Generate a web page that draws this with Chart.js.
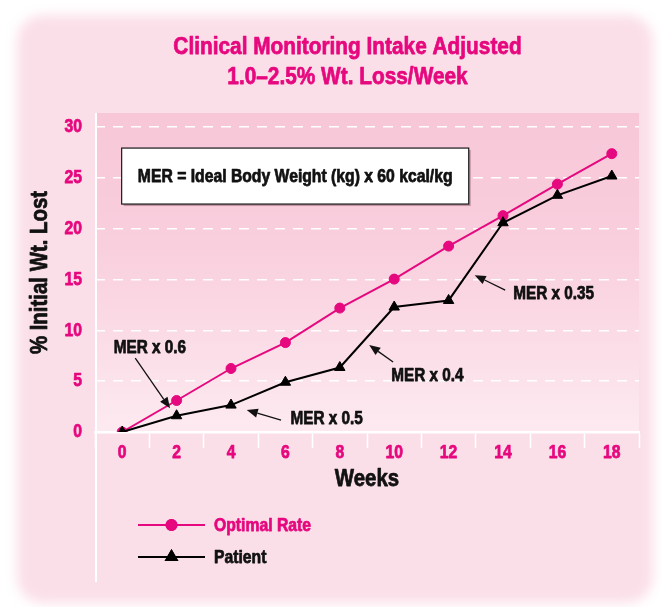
<!DOCTYPE html>
<html><head><meta charset="utf-8">
<script src="https://cdn.jsdelivr.net/npm/chart.js@4.4.1/dist/chart.umd.min.js"></script>
<style>html,body{margin:0;padding:0;background:#fff;} canvas{display:block;}</style>
</head><body>
<canvas id="c" width="661" height="607"></canvas>
<script>
// ---------- data ----------
const weeks = ['0', '2', '4', '6', '8', '10', '12', '14', '16', '18'];
const optimalRate = [0, 3.1, 6.25, 8.8, 12.2, 15.05, 18.3, 21.3, 24.4, 27.4];
const patient = [0, 1.6, 2.65, 4.9, 6.35, 12.3, 12.95, 20.6, 23.3, 25.2];
const titleLines = ['Clinical Monitoring Intake Adjusted', '1.0\u20132.5% Wt. Loss/Week'];
const seriesNames = ['Optimal Rate', 'Patient'];
const noteLabels = ['MER x 0.6', 'MER x 0.5', 'MER x 0.4', 'MER x 0.35'];
const boxLabel = 'MER = Ideal Body Weight (kg) x 60 kcal/kg';

// ---------- layout (positions in data units: weeks / % lost) ----------
const notePlacement = [
  { text: [1.02, 8.36], from: [0.48, 7.28], to: [1.76, 2.33] },
  { text: [7.52, 1.38], from: [5.84, 1.18], to: [4.58, 2.16] },
  { text: [11.22, 5.61], from: [9.96, 6.89], to: [9.08, 8.56] },
  { text: [15.86, 13.67], from: [14.08, 13.97], to: [12.96, 15.44] }
];
const boxPlacement = { x0: -0.02, x1: 12.74, y0: 27.95, y1: 22.44 };

const PINK = '#e6087e';
const FONT = '"Liberation Sans", Arial, sans-serif';
const CONDENSE = 0.85;   // horizontal squeeze to imitate a condensed face

// condensed, heavier text rendering on the chart's context
const canvas = document.getElementById('c');
const ctx2d = canvas.getContext('2d');
const origFill = ctx2d.fillText.bind(ctx2d);
const origStroke = ctx2d.strokeText.bind(ctx2d);
const origMeasure = ctx2d.measureText.bind(ctx2d);
ctx2d.fillText = function (text, x, y, maxWidth) {
  this.save();
  this.translate(x, y);
  this.scale(CONDENSE, 1);
  origFill(text, 0, 0);
  if (/bold/.test(this.font)) {
    this.strokeStyle = this.fillStyle;
    this.lineWidth = 0.75;
    this.lineJoin = 'round';
    this.setLineDash([]);
    origStroke(text, 0, 0);
  }
  this.restore();
};
ctx2d.measureText = function (text) {
  const m = origMeasure(text);
  return {
    width: m.width * CONDENSE,
    actualBoundingBoxAscent: m.actualBoundingBoxAscent,
    actualBoundingBoxDescent: m.actualBoundingBoxDescent,
    actualBoundingBoxLeft: m.actualBoundingBoxLeft * CONDENSE,
    actualBoundingBoxRight: m.actualBoundingBoxRight * CONDENSE
  };
};

function px(chart, wk, val) {
  const xs = chart.scales.x, ys = chart.scales.y;
  return [xs.getPixelForValue(wk / 2), ys.getPixelForValue(val)];
}

const backgroundPlugin = {
  id: 'bg',
  beforeDraw(chart) {
    const ctx = chart.ctx;
    const { left, right, top, bottom } = chart.chartArea;
    ctx.save();
    ctx.fillStyle = '#ffffff';
    ctx.fillRect(0, 0, chart.width, chart.height);
    ctx.filter = 'blur(6px)';
    ctx.fillStyle = '#fbdfe8';
    ctx.beginPath();
    ctx.roundRect(17, 15, 636, 588, 26);
    ctx.fill();
    ctx.filter = 'none';
    const g = ctx.createLinearGradient(0, top, 0, bottom);
    g.addColorStop(0, '#f7c7d8');
    g.addColorStop(0.4, '#f9cedd');
    g.addColorStop(0.7, '#fbdce6');
    g.addColorStop(1, '#fdeaf0');
    ctx.fillStyle = g;
    ctx.fillRect(left, top, right - left, bottom - top);
    ctx.restore();
  },
  beforeDatasetsDraw(chart) {
    const ctx = chart.ctx;
    const { left, top } = chart.chartArea;
    ctx.save();
    ctx.strokeStyle = '#ffffff';
    ctx.lineWidth = 2;
    ctx.beginPath();
    ctx.moveTo(left + 1, top);
    ctx.lineTo(left + 1, 582);
    ctx.stroke();
    // annotation box
    const [bx0, by0] = px(chart, boxPlacement.x0, boxPlacement.y0);
    const [bx1, by1] = px(chart, boxPlacement.x1, boxPlacement.y1);
    ctx.fillStyle = 'rgba(90,40,60,0.35)';
    ctx.fillRect(bx0 + 2, by0 + 2, bx1 - bx0, by1 - by0);
    ctx.fillStyle = '#ffffff';
    ctx.fillRect(bx0, by0, bx1 - bx0, by1 - by0);
    ctx.strokeStyle = '#1a1a1a';
    ctx.lineWidth = 1.2;
    ctx.strokeRect(bx0, by0, bx1 - bx0, by1 - by0);
    ctx.fillStyle = '#111';
    ctx.font = 'bold 18.5px ' + FONT;
    ctx.textAlign = 'center';
    ctx.textBaseline = 'middle';
    ctx.fillText(boxLabel, (bx0 + bx1) / 2, (by0 + by1) / 2 + 1);
    ctx.restore();
  },
  afterDraw(chart) {
    const ctx = chart.ctx;
    ctx.save();
    ctx.font = 'bold 18px ' + FONT;
    ctx.textAlign = 'center';
    ctx.textBaseline = 'middle';
    noteLabels.forEach((t, i) => {
      const p = notePlacement[i];
      const [tx, ty] = px(chart, p.text[0], p.text[1]);
      ctx.fillStyle = '#111';
      ctx.fillText(t, tx, ty + 1);
      const [x0, y0] = px(chart, p.from[0], p.from[1]);
      const [x1, y1] = px(chart, p.to[0], p.to[1]);
      const ang = Math.atan2(y1 - y0, x1 - x0);
      const hl = 11, hw = 4.5;
      const bxp = x1 - Math.cos(ang) * hl, byp = y1 - Math.sin(ang) * hl;
      ctx.strokeStyle = '#111';
      ctx.lineWidth = 1.3;
      ctx.beginPath();
      ctx.moveTo(x0, y0);
      ctx.lineTo(bxp, byp);
      ctx.stroke();
      ctx.beginPath();
      ctx.moveTo(x1, y1);
      ctx.lineTo(bxp + Math.sin(ang) * hw, byp - Math.cos(ang) * hw);
      ctx.lineTo(bxp - Math.sin(ang) * hw, byp + Math.cos(ang) * hw);
      ctx.closePath();
      ctx.fillStyle = '#111';
      ctx.fill();
    });
    // legend
    const items = [
      { ds: chart.data.datasets[0], y: 525, color: PINK },
      { ds: chart.data.datasets[1], y: 557, color: '#111' }
    ];
    items.forEach(it => {
      ctx.strokeStyle = it.ds.borderColor;
      ctx.lineWidth = it.ds.borderWidth;
      ctx.beginPath();
      ctx.moveTo(138, it.y);
      ctx.lineTo(205, it.y);
      ctx.stroke();
      Chart.helpers.drawPoint(ctx, {
        pointStyle: it.ds.pointStyle, radius: it.ds.pointRadius, borderWidth: 1, rotation: 0
      }, 171.5, it.y);
      ctx.fillStyle = it.ds.pointBackgroundColor;
      ctx.strokeStyle = it.ds.pointBackgroundColor;
      ctx.fill();
      ctx.stroke();
      ctx.fillStyle = it.color;
      ctx.font = 'bold 18.5px ' + FONT;
      ctx.textAlign = 'left';
      ctx.textBaseline = 'middle';
      ctx.fillText(it.ds.label, 214, it.y + 1);
    });
    ctx.restore();
  }
};

new Chart(canvas, {
  type: 'line',
  data: {
    labels: weeks,
    datasets: [
      {
        label: seriesNames[0], data: optimalRate, order: 1,
        borderColor: PINK, borderWidth: 2, tension: 0,
        pointStyle: 'circle', pointRadius: 5, pointBackgroundColor: PINK, pointBorderColor: PINK, pointBorderWidth: 1
      },
      {
        label: seriesNames[1], data: patient, order: 0,
        borderColor: '#000000', borderWidth: 2, tension: 0,
        pointStyle: 'triangle', pointRadius: 6, pointBackgroundColor: '#000000', pointBorderColor: '#000000', pointBorderWidth: 1
      }
    ]
  },
  options: {
    responsive: false,
    animation: false,
    devicePixelRatio: 1,
    layout: { padding: { left: 56, right: 22, top: 0, bottom: 113 } },
    plugins: {
      legend: { display: false },
      tooltip: { enabled: false },
      title: {
        display: true, text: titleLines, color: PINK,
        font: { family: FONT, size: 24.5, weight: 'bold', lineHeight: 1.225 },
        padding: { top: 32, bottom: 21 }
      }
    },
    scales: {
      x: {
        type: 'category',
        offset: true,
        grid: {
          offset: true, drawOnChartArea: false, drawTicks: true,
          tickLength: 16, tickWidth: 1.5, tickColor: '#ffffff', color: '#ffffff'
        },
        border: { display: true, color: '#ffffff', width: 2.5 },
        ticks: { color: PINK, font: { family: FONT, size: 18.5, weight: 'bold' }, padding: -6, maxRotation: 0 },
        title: { display: true, text: 'Weeks', color: '#111', font: { family: FONT, size: 24, weight: 'bold' }, padding: { top: 0, bottom: 0 } },
        afterFit(s) { s.height = 62; }
      },
      y: {
        min: 0, max: 31.4,
        grid: { color: '#ffffff', lineWidth: 1.5, drawTicks: false },
        border: { display: false, dash: [10, 8] },
        ticks: { stepSize: 5, includeBounds: false, color: PINK, padding: 13, font: { family: FONT, size: 18.5, weight: 'bold' } },
        title: { display: true, text: '% Initial Wt. Lost', color: '#111', font: { family: FONT, size: 24, weight: 'bold' }, padding: { top: -30.4, bottom: 0 } },
        afterFit(s) { s.width = 39; }
      }
    }
  },
  plugins: [backgroundPlugin]
});
</script>
</body></html>
